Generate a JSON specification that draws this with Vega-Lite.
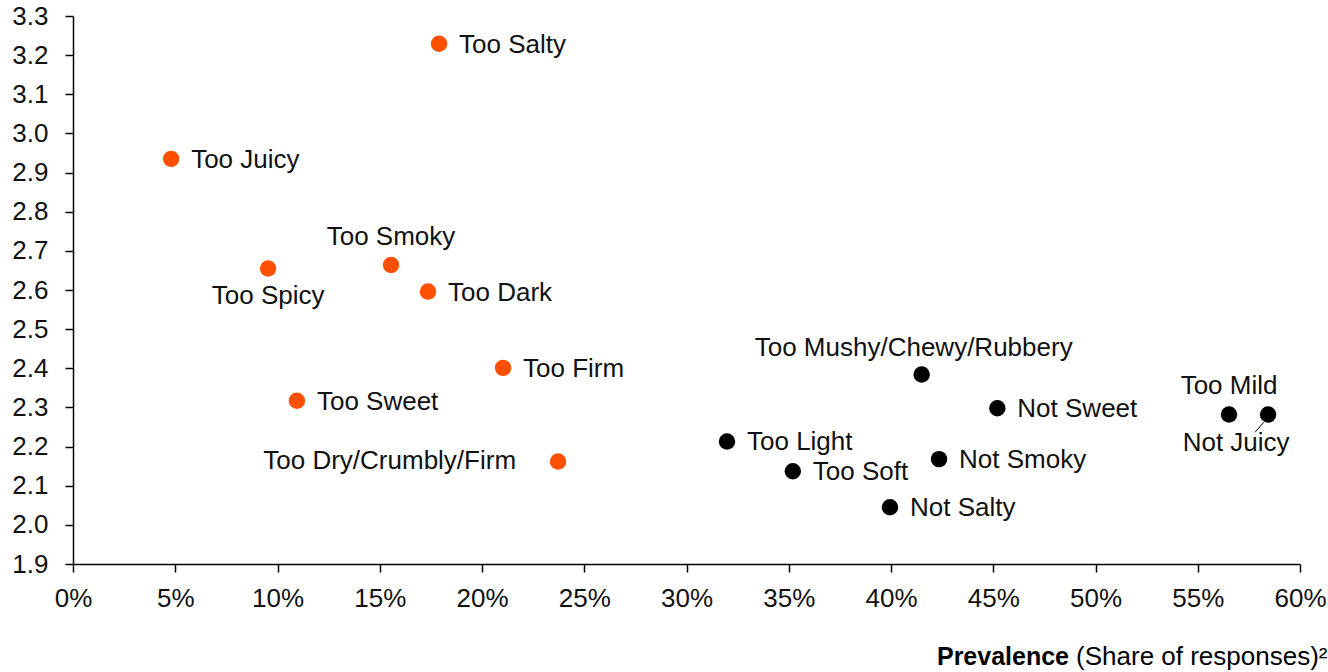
{
  "$schema": "https://vega.github.io/schema/vega-lite/v6.json",
  "width": 1227,
  "height": 548,
  "autosize": {"type": "none"},
  "padding": {"left": 73, "top": 16, "right": 28, "bottom": 108},
  "background": "white",
  "config": {
    "view": {"stroke": null},
    "font": "Liberation Sans",
    "text": {"font": "Liberation Sans", "fontSize": 26, "color": "#111111"},
    "axis": {"labelFont": "Liberation Sans", "titleFont": "Liberation Sans"}
  },
  "title": {
    "text": "Prevalence",
    "orient": "bottom",
    "anchor": "end",
    "frame": "group",
    "fontSize": 25,
    "fontWeight": "bold",
    "font": "Liberation Sans",
    "color": "#000000",
    "dx": -231,
    "dy": -8,
    "baseline": "alphabetic"
  },
  "data": {
    "values": [
      {"attribute": "Too Salty", "prevalence": 0.179, "score": 3.229, "cluster": "A"},
      {"attribute": "Too Juicy", "prevalence": 0.048, "score": 2.935, "cluster": "A"},
      {"attribute": "Too Smoky", "prevalence": 0.1555, "score": 2.664, "cluster": "A"},
      {"attribute": "Too Spicy", "prevalence": 0.0954, "score": 2.655, "cluster": "A"},
      {"attribute": "Too Dark", "prevalence": 0.1736, "score": 2.596, "cluster": "A"},
      {"attribute": "Too Firm", "prevalence": 0.2103, "score": 2.401, "cluster": "A"},
      {"attribute": "Too Sweet", "prevalence": 0.1095, "score": 2.317, "cluster": "A"},
      {"attribute": "Too Dry/Crumbly/Firm", "prevalence": 0.2372, "score": 2.162, "cluster": "A"},
      {"attribute": "Too Mushy/Chewy/Rubbery", "prevalence": 0.415, "score": 2.384, "cluster": "B"},
      {"attribute": "Not Sweet", "prevalence": 0.452, "score": 2.298, "cluster": "B"},
      {"attribute": "Too Light", "prevalence": 0.3198, "score": 2.213, "cluster": "B"},
      {"attribute": "Too Soft", "prevalence": 0.352, "score": 2.137, "cluster": "B"},
      {"attribute": "Not Smoky", "prevalence": 0.4235, "score": 2.168, "cluster": "B"},
      {"attribute": "Not Salty", "prevalence": 0.3995, "score": 2.045, "cluster": "B"},
      {"attribute": "Too Mild", "prevalence": 0.5653, "score": 2.282, "cluster": "B"},
      {"attribute": "Not Juicy", "prevalence": 0.5844, "score": 2.282, "cluster": "B"}
    ]
  },
  "encoding": {
    "x": {
      "field": "prevalence",
      "type": "quantitative",
      "scale": {"domain": [0, 0.6], "nice": false, "zero": false},
      "axis": {
        "title": "(Share of responses)²",
        "titleFontSize": 26,
        "titleFontWeight": "normal",
        "titleColor": "#000000",
        "titleAlign": "right",
        "titleAnchor": "end",
        "titleBaseline": "alphabetic",
        "titleX": 1254,
        "titleY": 100,
        "format": ".0%",
        "values": [0, 0.05, 0.1, 0.15, 0.2, 0.25, 0.3, 0.35, 0.4, 0.45, 0.5, 0.55, 0.6],
        "grid": false,
        "domainColor": "#000000",
        "domainWidth": 1.5,
        "tickColor": "#000000",
        "tickWidth": 1.5,
        "tickSize": 8,
        "labelFontSize": 26,
        "labelColor": "#111111",
        "labelPadding": 13,
        "labelFlush": false
      }
    },
    "y": {
      "field": "score",
      "type": "quantitative",
      "scale": {"domain": [1.9, 3.3], "nice": false, "zero": false},
      "axis": {
        "title": null,
        "format": ".1f",
        "values": [1.9, 2.0, 2.1, 2.2, 2.3, 2.4, 2.5, 2.6, 2.7, 2.8, 2.9, 3.0, 3.1, 3.2, 3.3],
        "grid": false,
        "domainColor": "#000000",
        "domainWidth": 1.5,
        "tickColor": "#000000",
        "tickWidth": 1.5,
        "tickSize": 8,
        "labelFontSize": 26,
        "labelColor": "#111111",
        "labelPadding": 17,
        "labelFlush": false
      }
    }
  },
  "layer": [
    {
      "transform": [{"filter": {"field": "attribute", "equal": "Not Juicy"}}],
      "mark": {"type": "rule", "color": "#000000", "strokeWidth": 1},
      "encoding": {
        "x": {"datum": 0.578},
        "y": {"datum": 2.2365},
        "x2": {"datum": 0.5823},
        "y2": {"datum": 2.262}
      }
    },
    {
      "mark": {"type": "point", "filled": true, "size": 270, "opacity": 1, "strokeWidth": 0},
      "encoding": {
        "color": {
          "field": "cluster",
          "type": "nominal",
          "scale": {"domain": ["A", "B"], "range": ["#FE5000", "#000000"]},
          "legend": null
        }
      }
    },
    {
      "transform": [{"filter": {"not": {"field": "attribute", "oneOf": ["Too Smoky", "Too Spicy", "Too Dry/Crumbly/Firm", "Too Mushy/Chewy/Rubbery", "Too Mild", "Not Juicy"]}}}],
      "mark": {"type": "text", "align": "left", "baseline": "middle", "dx": 20, "dy": 1},
      "encoding": {"text": {"field": "attribute"}}
    },
    {
      "transform": [{"filter": {"field": "attribute", "oneOf": ["Too Smoky", "Too Mild"]}}],
      "mark": {"type": "text", "align": "center", "baseline": "middle", "dy": -28},
      "encoding": {"text": {"field": "attribute"}}
    },
    {
      "transform": [{"filter": {"field": "attribute", "equal": "Too Mushy/Chewy/Rubbery"}}],
      "mark": {"type": "text", "align": "center", "baseline": "middle", "dx": -8, "dy": -27},
      "encoding": {"text": {"field": "attribute"}}
    },
    {
      "transform": [{"filter": {"field": "attribute", "equal": "Too Spicy"}}],
      "mark": {"type": "text", "align": "center", "baseline": "middle", "dy": 28},
      "encoding": {"text": {"field": "attribute"}}
    },
    {
      "transform": [{"filter": {"field": "attribute", "equal": "Not Juicy"}}],
      "mark": {"type": "text", "align": "center", "baseline": "middle", "dx": -32, "dy": 29},
      "encoding": {"text": {"field": "attribute"}}
    },
    {
      "transform": [{"filter": {"field": "attribute", "equal": "Too Dry/Crumbly/Firm"}}],
      "mark": {"type": "text", "align": "right", "baseline": "middle", "dx": -42, "dy": 0},
      "encoding": {"text": {"field": "attribute"}}
    }
  ]
}
